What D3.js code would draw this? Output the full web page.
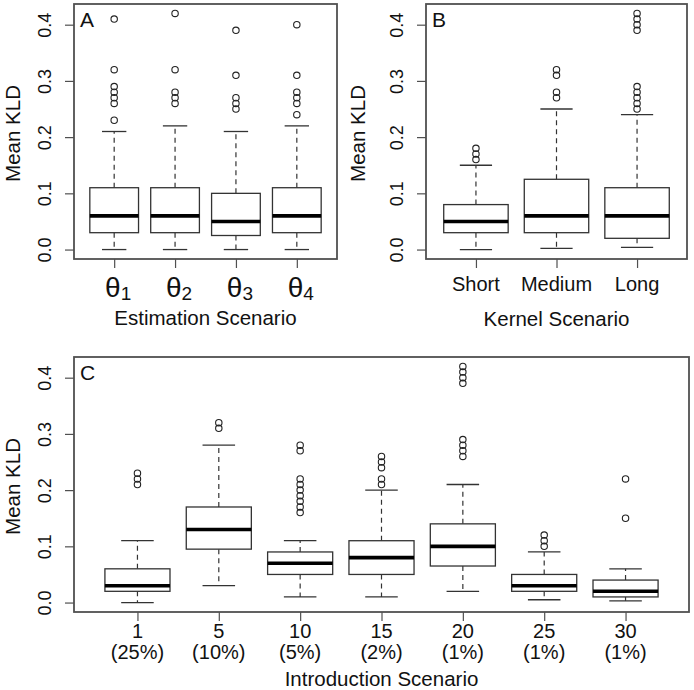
<!DOCTYPE html>
<html><head><meta charset="utf-8">
<script src="https://cdn.jsdelivr.net/npm/d3@7"></script>
<style>
html,body{margin:0;padding:0;background:#fff;}
text{font-family:"Liberation Sans",Arial,Helvetica,sans-serif;fill:#111;}
</style></head>
<body><svg id="chart" width="694" height="690"></svg>
<script>
// ---------- data ----------
const yTicks = [0, 0.1, 0.2, 0.3, 0.4];
const yTickLabels = ["0.0", "0.1", "0.2", "0.3", "0.4"];

// Panel A: estimation scenario (theta subscripts)
const catsA = ["1", "2", "3", "4"];
// [lower whisker, Q1, median, Q3, upper whisker]
const statsA = [
  [0, 0.03, 0.06, 0.11, 0.21],
  [0, 0.03, 0.06, 0.11, 0.22],
  [0, 0.025, 0.05, 0.10, 0.21],
  [0, 0.03, 0.06, 0.11, 0.22]
];
const outliersA = [
  [0.23, 0.26, 0.27, 0.28, 0.29, 0.32, 0.41],
  [0.26, 0.27, 0.28, 0.32, 0.42],
  [0.25, 0.26, 0.27, 0.31, 0.39],
  [0.24, 0.26, 0.27, 0.28, 0.31, 0.40]
];

// Panel B: kernel scenario
const catsB = ["Short", "Medium", "Long"];
const statsB = [
  [0, 0.03, 0.05, 0.08, 0.15],
  [0.002, 0.03, 0.06, 0.125, 0.25],
  [0.004, 0.02, 0.06, 0.11, 0.24]
];
const outliersB = [
  [0.16, 0.17, 0.18],
  [0.27, 0.28, 0.31, 0.32],
  [0.25, 0.26, 0.27, 0.28, 0.29, 0.39, 0.40, 0.41, 0.42]
];

// Panel C: introduction scenario
const catsC = ["1", "5", "10", "15", "20", "25", "30"];
const pctC = ["(25%)", "(10%)", "(5%)", "(2%)", "(1%)", "(1%)", "(1%)"];
const statsC = [
  [0, 0.02, 0.03, 0.06, 0.11],
  [0.03, 0.095, 0.13, 0.17, 0.28],
  [0.01, 0.05, 0.07, 0.09, 0.11],
  [0.01, 0.05, 0.08, 0.11, 0.20],
  [0.02, 0.065, 0.10, 0.14, 0.21],
  [0.005, 0.02, 0.03, 0.05, 0.09],
  [0.003, 0.01, 0.02, 0.04, 0.06]
];
const outliersC = [
  [0.21, 0.22, 0.23],
  [0.31, 0.32],
  [0.16, 0.17, 0.18, 0.19, 0.20, 0.21, 0.22, 0.27, 0.28],
  [0.21, 0.22, 0.24, 0.25, 0.26],
  [0.26, 0.27, 0.28, 0.29, 0.39, 0.40, 0.41, 0.42],
  [0.10, 0.11, 0.12],
  [0.15, 0.22]
];

// ---------- drawing ----------
const svg = d3.select("#chart");
const FRAME = "#505050", BOXC = "#333";

function panel(o) {
  const n = o.stats.length;
  const ext = n * 0.04;
  const x = d3.scaleLinear().domain([0.5 - ext, n + 0.5 + ext]).range([o.left, o.right]);
  const y = d3.scaleLinear().domain([-0.0168, 0.4368]).range([o.bottom, o.top]);
  const unit = x(2) - x(1);
  const bw = unit * 0.8, cw = bw * 0.5;
  const g = svg.append("g");

  // y axis
  const ya = g.append("g").attr("transform", `translate(${o.left},0)`)
    .call(d3.axisLeft(y).tickValues(yTicks).tickSize(9).tickFormat((d, i) => yTickLabels[i]));
  ya.select(".domain").remove();
  ya.selectAll(".tick line").attr("stroke", FRAME).attr("stroke-width", 1.2);
  ya.selectAll(".tick text").attr("x", null).attr("dy", null)
    .attr("transform", "translate(-23,0) rotate(-90)")
    .attr("text-anchor", "middle").attr("font-size", 18).attr("fill", "#111");

  // x axis ticks
  const xa = g.append("g").attr("transform", `translate(0,${o.bottom})`)
    .call(d3.axisBottom(x).tickValues(d3.range(1, n + 1)).tickSize(9).tickFormat(""));
  xa.select(".domain").remove();
  xa.selectAll(".tick line").attr("stroke", FRAME).attr("stroke-width", 1.2);

  // boxes
  o.stats.forEach((s, i) => {
    const cx = x(i + 1);
    const bg = g.append("g");
    // whiskers
    bg.append("line").attr("x1", cx).attr("x2", cx).attr("y1", y(s[3])).attr("y2", y(s[4]))
      .attr("stroke", BOXC).attr("stroke-width", 1.2).attr("stroke-dasharray", "5,4");
    bg.append("line").attr("x1", cx).attr("x2", cx).attr("y1", y(s[1])).attr("y2", y(s[0]))
      .attr("stroke", BOXC).attr("stroke-width", 1.2).attr("stroke-dasharray", "5,4");
    [s[0], s[4]].forEach(v => bg.append("line").attr("x1", cx - cw / 2).attr("x2", cx + cw / 2)
      .attr("y1", y(v)).attr("y2", y(v)).attr("stroke", BOXC).attr("stroke-width", 1.3));
    bg.append("rect").attr("x", cx - bw / 2).attr("width", bw)
      .attr("y", y(s[3])).attr("height", y(s[1]) - y(s[3]))
      .attr("fill", "#fff").attr("stroke", BOXC).attr("stroke-width", 1.3);
    bg.append("line").attr("x1", cx - bw / 2).attr("x2", cx + bw / 2)
      .attr("y1", y(s[2])).attr("y2", y(s[2])).attr("stroke", "#000").attr("stroke-width", 3.6);
    o.outliers[i].forEach(v => bg.append("circle").attr("cx", cx).attr("cy", y(v)).attr("r", 3.2)
      .attr("fill", "none").attr("stroke", "#222").attr("stroke-width", 1.1));
  });

  // frame
  g.append("rect").attr("x", o.left).attr("y", o.top).attr("width", o.right - o.left)
    .attr("height", o.bottom - o.top).attr("fill", "none").attr("stroke", FRAME).attr("stroke-width", 1.8);

  // panel letter
  g.append("text").attr("x", o.left + 6).attr("y", o.top + 23).attr("font-size", 21).text(o.letter);

  // y title
  g.append("text").attr("transform", `translate(${o.ytitleX},${(o.top + o.bottom) / 2 + 2}) rotate(-90)`)
    .attr("text-anchor", "middle").attr("font-size", 20.5).text("Mean KLD");

  // x title
  g.append("text").attr("x", (o.left + o.right) / 2).attr("y", o.bottom + o.xtitleDy)
    .attr("text-anchor", "middle").attr("font-size", 20.5).text(o.xtitle);

  return { g, x, y };
}

// Panel A
const pA = panel({ left: 74, right: 337, top: 4, bottom: 259, stats: statsA, outliers: outliersA,
  letter: "A", ytitleX: 20, xtitle: "Estimation Scenario", xtitleDy: 66 });
catsA.forEach((c, i) => {
  const t = pA.g.append("text").attr("x", pA.x(i + 1) + 4).attr("y", 297)
    .attr("text-anchor", "middle").attr("font-size", 28);
  t.append("tspan").text("θ");
  t.append("tspan").attr("font-size", 19).attr("dy", 3).text(c);
});

// Panel B
const pB = panel({ left: 426, right: 687, top: 4, bottom: 259, stats: statsB, outliers: outliersB,
  letter: "B", ytitleX: 365, xtitle: "Kernel Scenario", xtitleDy: 67 });
catsB.forEach((c, i) => {
  pB.g.append("text").attr("x", pB.x(i + 1)).attr("y", 291)
    .attr("text-anchor", "middle").attr("font-size", 20).text(c);
});

// Panel C
const pC = panel({ left: 74, right: 689, top: 357, bottom: 612, stats: statsC, outliers: outliersC,
  letter: "C", ytitleX: 20, xtitle: "Introduction Scenario", xtitleDy: 74 });
catsC.forEach((c, i) => {
  pC.g.append("text").attr("x", pC.x(i + 1)).attr("y", 638)
    .attr("text-anchor", "middle").attr("font-size", 20).text(c);
  pC.g.append("text").attr("x", pC.x(i + 1)).attr("y", 659)
    .attr("text-anchor", "middle").attr("font-size", 20).text(pctC[i]);
});
</script></body></html>
